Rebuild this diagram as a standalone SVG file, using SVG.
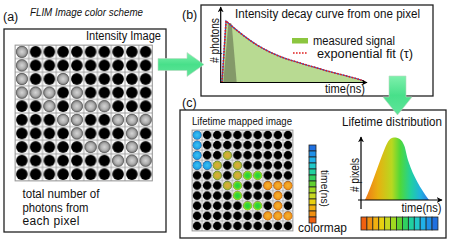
<svg xmlns="http://www.w3.org/2000/svg" width="450" height="241" viewBox="0 0 450 241">
<style>
text{font-family:"Liberation Sans",Arial,sans-serif;fill:#111}
.box{fill:#fff;stroke:#222;stroke-width:1.3}
.lbl{font-size:12.5px}
.t12{font-size:12px}
.t11{font-size:11.5px}
.ax{stroke:#000;stroke-width:1.2;fill:none}
.seg{stroke:#222;stroke-width:0.8}
.g{fill:url(#grayDot);stroke:#777;stroke-width:0.6}
.c{fill:url(#cyanDot)}
.y{fill:url(#oliveDot)}
.gr{fill:url(#greenDot)}
.o{fill:url(#orangeDot)}
</style>
<defs>
<pattern id="gridA" patternUnits="userSpaceOnUse" x="15" y="45" width="13.75" height="13.6">
<rect x="0" y="0" width="13.75" height="13.6" fill="#fff" stroke="#9a9a9a" stroke-width="0.9"/>
<circle cx="6.875" cy="6.8" r="5.8" fill="#000"/>
</pattern>
<pattern id="gridC" patternUnits="userSpaceOnUse" x="192" y="130" width="10.1" height="10.1">
<rect x="0" y="0" width="10.1" height="10.1" fill="#fff" stroke="#9a9a9a" stroke-width="0.8"/>
<circle cx="5.05" cy="5.05" r="4.3" fill="#000"/>
</pattern>
<radialGradient id="grayDot"><stop offset="0" stop-color="#d4d4d4"/><stop offset="0.6" stop-color="#b0b0b0"/><stop offset="1" stop-color="#7a7a7a"/></radialGradient>
<radialGradient id="cyanDot"><stop offset="0" stop-color="#40c0f0"/><stop offset="0.7" stop-color="#20a8e8"/><stop offset="1" stop-color="#2080d0"/></radialGradient>
<radialGradient id="oliveDot"><stop offset="0" stop-color="#e0a840"/><stop offset="0.6" stop-color="#c8b030"/><stop offset="1" stop-color="#88b030"/></radialGradient>
<radialGradient id="greenDot"><stop offset="0" stop-color="#20d040"/><stop offset="0.6" stop-color="#40d830"/><stop offset="1" stop-color="#b0e020"/></radialGradient>
<radialGradient id="orangeDot"><stop offset="0" stop-color="#f8b030"/><stop offset="0.6" stop-color="#f0a020"/><stop offset="1" stop-color="#e07810"/></radialGradient>
<linearGradient id="arrowG" x1="0" y1="0" x2="0" y2="1"><stop offset="0" stop-color="#7ef0ac"/><stop offset="0.5" stop-color="#48e08a"/><stop offset="1" stop-color="#60e49a"/></linearGradient>
<linearGradient id="distG" x1="365" y1="0" x2="429" y2="0" gradientUnits="userSpaceOnUse">
<stop offset="0" stop-color="#f07818"/><stop offset="0.2" stop-color="#e8b010"/><stop offset="0.42" stop-color="#b8d820"/><stop offset="0.55" stop-color="#50d838"/><stop offset="0.72" stop-color="#20d0a0"/><stop offset="0.87" stop-color="#20b0e0"/><stop offset="1" stop-color="#3078e0"/>
</linearGradient>
<marker id="ah" viewBox="0 0 10 10" refX="9" refY="5" markerWidth="6" markerHeight="6" orient="auto" markerUnits="userSpaceOnUse"><path d="M0,0 L10,5 L0,10 L3,5 Z" fill="#000"/></marker>
</defs>

<g id="panel-a">
<text class="lbl" x="3" y="21">(a)</text>
<text x="30" y="16" font-size="11" font-style="italic" textLength="113" lengthAdjust="spacingAndGlyphs">FLIM Image color scheme</text>
<rect class="box" x="4" y="29" width="162" height="203"/>
<text class="t12" x="86" y="40" textLength="75" lengthAdjust="spacingAndGlyphs">Intensity Image</text>
<rect x="15" y="45" width="137.5" height="136" fill="url(#gridA)" stroke="#9a9a9a" stroke-width="0.8"/>
<g id="gray-dots">
<circle class="g" cx="21.9" cy="51.8" r="5.6"/>
<circle class="g" cx="21.9" cy="65.4" r="5.6"/>
<circle class="g" cx="21.9" cy="79" r="5.6"/>
<circle class="g" cx="63.1" cy="79" r="5.6"/>
<circle class="g" cx="21.9" cy="92.6" r="5.6"/>
<circle class="g" cx="35.6" cy="92.6" r="5.6"/>
<circle class="g" cx="49.4" cy="92.6" r="5.6"/>
<circle class="g" cx="76.9" cy="92.6" r="5.6"/>
<circle class="g" cx="49.4" cy="106.2" r="5.6"/>
<circle class="g" cx="76.9" cy="106.2" r="5.6"/>
<circle class="g" cx="90.6" cy="106.2" r="5.6"/>
<circle class="g" cx="104.4" cy="106.2" r="5.6"/>
<circle class="g" cx="63.1" cy="119.8" r="5.6"/>
<circle class="g" cx="76.9" cy="119.8" r="5.6"/>
<circle class="g" cx="118.1" cy="119.8" r="5.6"/>
<circle class="g" cx="131.9" cy="119.8" r="5.6"/>
<circle class="g" cx="145.6" cy="119.8" r="5.6"/>
<circle class="g" cx="76.9" cy="133.4" r="5.6"/>
<circle class="g" cx="131.9" cy="133.4" r="5.6"/>
<circle class="g" cx="90.6" cy="147" r="5.6"/>
<circle class="g" cx="104.4" cy="147" r="5.6"/>
<circle class="g" cx="131.9" cy="147" r="5.6"/>
<circle class="g" cx="118.1" cy="160.6" r="5.6"/>
<circle class="g" cx="131.9" cy="160.6" r="5.6"/>
<circle class="g" cx="145.6" cy="160.6" r="5.6"/>
</g>
<text class="t12" x="22.5" y="198" textLength="77" lengthAdjust="spacingAndGlyphs">total number of</text>
<text class="t12" x="22.5" y="211.5" textLength="66" lengthAdjust="spacingAndGlyphs">photons from</text>
<text class="t12" x="22.5" y="225" textLength="57" lengthAdjust="spacing">each pixel</text>
</g>

<g id="panel-b">
<text class="lbl" x="182" y="19">(b)</text>
<rect class="box" x="201" y="5" width="232" height="91"/>
<text class="t12" x="235" y="18" textLength="185" lengthAdjust="spacingAndGlyphs">Intensity decay curve from one pixel</text>
<path d="M222,82.5 L226,21 C236,30 246,38 257,45 C270,53 282,57.5 290,60 C305,64.5 320,69 333,72.5 C345,75.5 355,78 364,81 L364,82.5 Z" fill="#b8da92"/>
<path d="M223.3,82.5 L228.3,24 Q230,22 231.7,24 L236.7,82.5 Z" fill="#6e7d58" fill-opacity="0.7"/>
<path d="M222,82.5 L226,21 C236,30 246,38 257,45 C270,53 282,57.5 290,60 C305,64.5 320,69 333,72.5 C345,75.5 355,78 364,81" fill="none" stroke="#3050c0" stroke-width="1.2"/>
<path d="M222,82.5 L226,21 C236,30 246,38 257,45 C270,53 282,57.5 290,60 C305,64.5 320,69 333,72.5 C345,75.5 355,78 364,81" fill="none" stroke="#e02020" stroke-width="1.6" stroke-dasharray="1.6,1.4"/>
<line class="ax" x1="220.7" y1="83" x2="220.7" y2="7" marker-end="url(#ah)"/>
<line class="ax" x1="220.1" y1="82.5" x2="367" y2="82.5" marker-end="url(#ah)"/>
<text class="t12" transform="translate(218.5,40.5) rotate(-90)" text-anchor="middle" textLength="45" lengthAdjust="spacingAndGlyphs">#&#160;photons</text>
<rect x="292" y="38" width="16" height="5.5" fill="#8cc63f"/>
<line x1="293" y1="53" x2="308" y2="53" stroke="#e02020" stroke-width="1.6" stroke-dasharray="1.6,1.4"/>
<text class="t12" x="313" y="44.5" textLength="82" lengthAdjust="spacingAndGlyphs">measured signal</text>
<text class="t12" x="317" y="57.5" textLength="96" lengthAdjust="spacingAndGlyphs">exponential fit (τ)</text>
<text class="t12" x="325" y="93" textLength="40" lengthAdjust="spacingAndGlyphs">time(ns)</text>
</g>

<g id="panel-c">
<text class="lbl" x="182" y="107">(c)</text>
<rect class="box" x="180" y="110" width="266" height="128"/>
<text x="192" y="125" font-size="11" textLength="100" lengthAdjust="spacingAndGlyphs">Lifetime mapped image</text>
<rect x="192" y="130" width="101" height="101" fill="url(#gridC)" stroke="#9a9a9a" stroke-width="0.8"/>
<g id="lifetime-dots">
<circle class="c" cx="197.1" cy="135.1" r="4.4"/>
<circle class="c" cx="197.1" cy="145.2" r="4.4"/>
<circle class="c" cx="197.1" cy="155.3" r="4.4"/>
<circle class="y" cx="227.4" cy="155.3" r="4.4"/>
<circle class="c" cx="197.1" cy="165.4" r="4.4"/>
<circle class="c" cx="207.2" cy="165.4" r="4.4"/>
<circle class="y" cx="217.3" cy="165.4" r="4.4"/>
<circle class="y" cx="237.5" cy="165.4" r="4.4"/>
<circle class="y" cx="217.3" cy="175.5" r="4.4"/>
<circle class="y" cx="237.5" cy="175.5" r="4.4"/>
<circle class="gr" cx="247.6" cy="175.5" r="4.4"/>
<circle class="gr" cx="257.7" cy="175.5" r="4.4"/>
<circle class="y" cx="227.4" cy="185.6" r="4.4"/>
<circle class="gr" cx="237.5" cy="185.6" r="4.4"/>
<circle class="o" cx="267.8" cy="185.6" r="4.4"/>
<circle class="o" cx="277.9" cy="185.6" r="4.4"/>
<circle class="o" cx="288" cy="185.6" r="4.4"/>
<circle class="gr" cx="237.5" cy="195.7" r="4.4"/>
<circle class="o" cx="277.9" cy="195.7" r="4.4"/>
<circle class="gr" cx="247.6" cy="205.8" r="4.4"/>
<circle class="gr" cx="257.7" cy="205.8" r="4.4"/>
<circle class="o" cx="277.9" cy="205.8" r="4.4"/>
<circle class="o" cx="267.8" cy="215.9" r="4.4"/>
<circle class="o" cx="277.9" cy="215.9" r="4.4"/>
<circle class="o" cx="288" cy="215.9" r="4.4"/>
</g>
<g id="colormap-vertical">
<rect class="seg" x="309" y="145" width="7" height="6" fill="#2070e0"/>
<rect class="seg" x="309" y="151" width="7" height="6" fill="#2090e8"/>
<rect class="seg" x="309" y="157" width="7" height="6" fill="#20b0e8"/>
<rect class="seg" x="309" y="163" width="7" height="6" fill="#20c8c8"/>
<rect class="seg" x="309" y="169" width="7" height="6" fill="#20d0a0"/>
<rect class="seg" x="309" y="175" width="7" height="6" fill="#30d060"/>
<rect class="seg" x="309" y="181" width="7" height="6" fill="#60d030"/>
<rect class="seg" x="309" y="187" width="7" height="6" fill="#a0d820"/>
<rect class="seg" x="309" y="193" width="7" height="6" fill="#c8d820"/>
<rect class="seg" x="309" y="199" width="7" height="6" fill="#e8d010"/>
<rect class="seg" x="309" y="205" width="7" height="6" fill="#f0b010"/>
<rect class="seg" x="309" y="211" width="7" height="6" fill="#f09010"/>
<rect class="seg" x="309" y="217" width="7" height="6" fill="#f06010"/>
</g>
<text class="t11" transform="translate(320.5,188.5) rotate(90)" text-anchor="middle" textLength="37" lengthAdjust="spacingAndGlyphs">time(ns)</text>
<text class="t12" x="298" y="231.5" textLength="49" lengthAdjust="spacingAndGlyphs">colormap</text>
<text class="t12" x="342" y="126" textLength="100" lengthAdjust="spacingAndGlyphs">Lifetime distribution</text>
<path d="M365,200 C372,185 378,165 385,148 C388,141 390,137.5 394,137.5 C398,137.5 401,139 403,143 C406,148 406,155 409,163 C413,175 420,188 429,200 Z" fill="url(#distG)"/>
<line class="ax" x1="361" y1="209" x2="361" y2="137" marker-end="url(#ah)"/>
<line class="ax" x1="358" y1="200" x2="442" y2="200" marker-end="url(#ah)"/>
<text class="t12" transform="translate(358.5,175) rotate(-90)" text-anchor="middle" textLength="34" lengthAdjust="spacingAndGlyphs">#&#160;pixels</text>
<text class="t12" x="401.5" y="212" textLength="40" lengthAdjust="spacingAndGlyphs">time(ns)</text>
<g id="colormap-horizontal">
<rect class="seg" x="361" y="217" width="5.92" height="13" fill="#f06010"/>
<rect class="seg" x="366.92" y="217" width="5.92" height="13" fill="#f09010"/>
<rect class="seg" x="372.84" y="217" width="5.92" height="13" fill="#f0b010"/>
<rect class="seg" x="378.76" y="217" width="5.92" height="13" fill="#e8d010"/>
<rect class="seg" x="384.68" y="217" width="5.92" height="13" fill="#c8d820"/>
<rect class="seg" x="390.6" y="217" width="5.92" height="13" fill="#a0d820"/>
<rect class="seg" x="396.52" y="217" width="5.92" height="13" fill="#60d030"/>
<rect class="seg" x="402.44" y="217" width="5.92" height="13" fill="#30d060"/>
<rect class="seg" x="408.36" y="217" width="5.92" height="13" fill="#20d0a0"/>
<rect class="seg" x="414.28" y="217" width="5.92" height="13" fill="#20c8c8"/>
<rect class="seg" x="420.2" y="217" width="5.92" height="13" fill="#20b0e8"/>
<rect class="seg" x="426.12" y="217" width="5.92" height="13" fill="#2090e8"/>
<rect class="seg" x="432.04" y="217" width="5.92" height="13" fill="#2070e0"/>
</g>
</g>

<g id="connectors">
<polygon points="158,58.5 187,58.5 187,52.5 204,64.5 187,76.5 187,70.5 158,70.5" fill="url(#arrowG)" stroke="#b8d8c0" stroke-width="0.6"/>
<polygon points="389,76 406,76 406,97 412,97 397.5,115 383,97 389,97" fill="url(#arrowG)" stroke="#b8d8c0" stroke-width="0.6"/>
</g>
</svg>
